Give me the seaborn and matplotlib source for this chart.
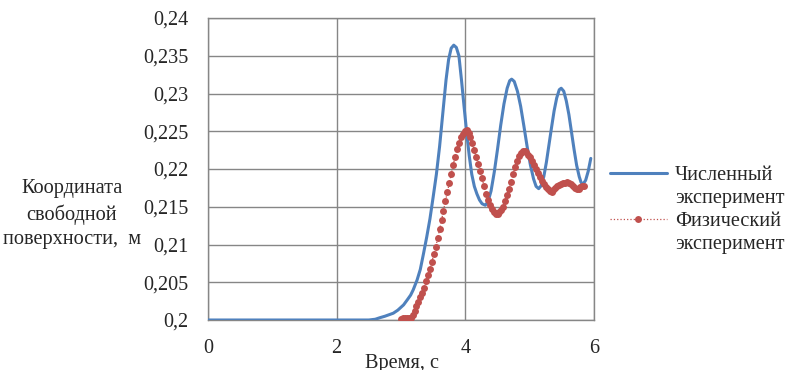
import numpy as np
import pandas as pd
import matplotlib
matplotlib.use('Agg')
import matplotlib.pyplot as plt
from matplotlib.lines import Line2D
import seaborn as sns

# numerical experiment (time, level)
num_t = [0.0, 0.5, 1.0, 1.5, 2.0, 2.3, 2.5, 2.6, 2.67, 2.75, 2.88, 2.95, 3.04, 3.1, 3.15,
         3.19, 3.25, 3.3, 3.35, 3.4, 3.45, 3.5, 3.55, 3.6, 3.65, 3.7, 3.74, 3.78, 3.82,
         3.86, 3.9, 3.94, 3.98, 4.02, 4.06, 4.1, 4.14, 4.18, 4.22, 4.26, 4.31,
         4.35, 4.4, 4.45, 4.5, 4.55, 4.6, 4.65, 4.69, 4.72,
         4.76, 4.81, 4.86, 4.91, 4.96, 5.01, 5.06, 5.1, 5.14,
         5.18, 5.22, 5.26, 5.3, 5.34, 5.38, 5.42, 5.46, 5.49,
         5.53, 5.57, 5.61, 5.65, 5.69, 5.73, 5.77, 5.8, 5.83, 5.87, 5.91, 5.95]
num_y = [0.2, 0.2, 0.2, 0.2, 0.2, 0.2, 0.2, 0.2001, 0.2003, 0.2005, 0.2009, 0.2013, 0.2020,
         0.2027, 0.2033, 0.2040, 0.2053, 0.2067, 0.2088, 0.2110, 0.2134, 0.2163, 0.2193,
         0.2230, 0.2274, 0.2318, 0.2345, 0.2360, 0.2364, 0.2361, 0.2350, 0.2318, 0.2283,
         0.2249, 0.2218, 0.2193, 0.2177, 0.2167, 0.2159, 0.2154, 0.2152,
         0.2156, 0.2171, 0.2196, 0.2226, 0.2258, 0.2286, 0.2307, 0.2317, 0.2319,
         0.2316, 0.2303, 0.2283, 0.2257, 0.2230, 0.2206, 0.2187, 0.2177, 0.2174,
         0.2178, 0.2190, 0.2209, 0.2232, 0.2255, 0.2277, 0.2294, 0.2305, 0.2307,
         0.2303, 0.2290, 0.2272, 0.2249, 0.2226, 0.2205, 0.2190, 0.2182, 0.2180,
         0.2185, 0.2197, 0.2214]

# physical experiment, sampled every 0.03 s from 3.00 s
phys_t0 = 3.0
phys_dt = 0.03
phys_y = [0.2001, 0.2002, 0.2002, 0.2002, 0.2002, 0.2003, 0.2006, 0.2012, 0.2018, 0.2024,
          0.2030, 0.2036, 0.2042, 0.2051, 0.2060, 0.2068, 0.2077, 0.2087, 0.2097, 0.2108,
          0.2120, 0.2132, 0.2145, 0.2157, 0.2169, 0.2181, 0.2193, 0.2205, 0.2216, 0.2226,
          0.2235, 0.2242, 0.2247, 0.2250, 0.2251, 0.2248, 0.2242, 0.2234, 0.2225, 0.2216,
          0.2207, 0.2198, 0.2188, 0.2177, 0.2167, 0.2159, 0.2152, 0.2147, 0.2143, 0.2141,
          0.2141, 0.2143, 0.2146, 0.2150, 0.2157, 0.2165, 0.2174, 0.2183, 0.2193, 0.2202,
          0.2211, 0.2217, 0.2221, 0.2224, 0.2224, 0.2222, 0.2219, 0.2216, 0.2211, 0.2205,
          0.2200, 0.2195, 0.2190, 0.2184, 0.2180, 0.2176, 0.2173, 0.2171, 0.2170, 0.2172,
          0.2175, 0.2177, 0.2179, 0.2180, 0.2181, 0.2182, 0.2183, 0.2182, 0.2180, 0.2177,
          0.2175, 0.2174, 0.2174, 0.2176, 0.2177, 0.2178]
phys_t = phys_t0 + phys_dt * np.arange(len(phys_y))

x_ticks = [0, 2, 4, 6]
y_ticks = [0.2, 0.205, 0.21, 0.215, 0.22, 0.225, 0.23, 0.235, 0.24]
y_labels = ['0,2', '0,205', '0,21', '0,215', '0,22', '0,225', '0,23', '0,235', '0,24']

blue = '#4F81BD'
red = '#C0504D'
grid = '#868686'

sns.set_style('white')
plt.rcParams['font.family'] = 'serif'
plt.rcParams['font.serif'] = ['Liberation Serif', 'DejaVu Serif']
fs = 14.6

df_num = pd.DataFrame({'t': num_t, 'y': num_y})
df_phys = pd.DataFrame({'t': phys_t, 'y': phys_y})

fig = plt.figure(figsize=(7.93, 3.70), dpi=100)
ax = fig.add_axes([208 / 793, 1 - 320 / 370, 386 / 793, 302 / 370])

sns.lineplot(data=df_num, x='t', y='y', ax=ax, color=blue, linewidth=2.2, zorder=3)
sns.lineplot(data=df_phys, x='t', y='y', ax=ax, color=red, linewidth=0.9, linestyle=':',
             marker='o', markersize=5, markeredgewidth=0, zorder=4)

ax.set_xlim(0, 6)
ax.set_ylim(0.2, 0.24)
ax.set_xticks(x_ticks)
ax.set_xticklabels([str(v) for v in x_ticks], fontsize=fs)
ax.set_yticks(y_ticks)
ax.set_yticklabels(y_labels, fontsize=fs)
ax.tick_params(axis='both', direction='out', length=6, width=1, color=grid, pad=8)
ax.grid(True, color=grid, linewidth=1)
for s in ax.spines.values():
    s.set_color(grid)
    s.set_linewidth(1)
ax.set_xlabel('')
ax.set_ylabel('')

fig.text(72 / 793, 1 - 214 / 370, 'Координата\nсвободной\nповерхности,  м',
         ha='center', va='center', fontsize=fs, multialignment='center', linespacing=1.4)
# the reference cuts this label at the bottom edge
fig.text(402 / 793, 1 - 354 / 370, 'Время, с', ha='center', va='top', fontsize=fs)

handles = [Line2D([], [], color=blue, linewidth=2.2),
           Line2D([], [], color='none'),
           Line2D([], [], color=red, linewidth=0.9, linestyle=':', marker='o',
                  markersize=5, markeredgewidth=0),
           Line2D([], [], color='none')]
labels = ['Численный', 'эксперимент', 'Физический', 'эксперимент']
fig.legend(handles, labels, loc='center left', bbox_to_anchor=(610 / 793, 1 - 210 / 370),
           frameon=False, fontsize=fs, handlelength=2.8, handletextpad=0.4,
           labelspacing=0.2, borderpad=0, borderaxespad=0)

fig.savefig('out.png', dpi=100)
